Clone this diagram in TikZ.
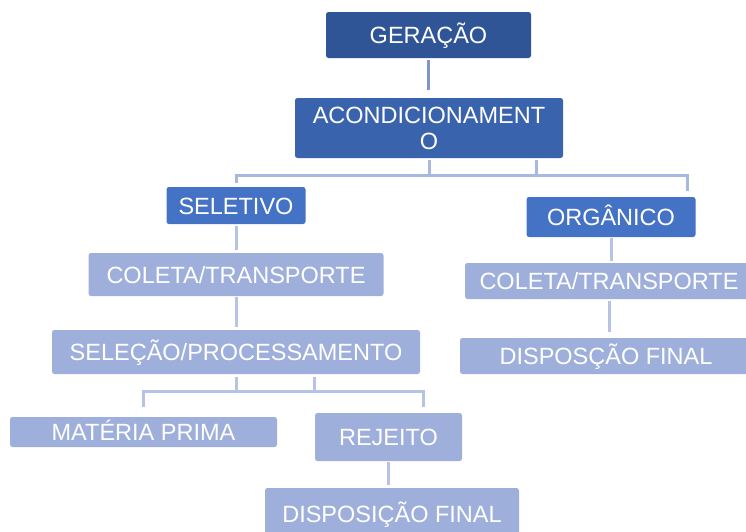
\documentclass[tikz,border=0pt]{standalone}
\usepackage{fontspec}
\setmainfont{Liberation Sans}
\usepackage{tikz}
\usetikzlibrary{calc}
\definecolor{gerblue}{HTML}{2F5597}
\definecolor{acondblue}{HTML}{3A63AE}
\definecolor{tipoblue}{HTML}{4472C4}
\definecolor{etapablue}{HTML}{9FAFDB}
\definecolor{topline}{HTML}{7F95CC}
\definecolor{midline}{HTML}{A9B8E0}
\definecolor{lowline}{HTML}{B6C3E4}
\tikzstyle{caixa}=[rounded corners=2.5pt, inner sep=0pt, text=white, font=\fontsize{23.5}{26}\selectfont]
\tikzstyle{linha}=[caixa, text height=17pt, text depth=0pt]
\tikzstyle{geracao}=[linha, fill=gerblue]
\tikzstyle{acond}=[caixa, fill=acondblue, align=center]
\tikzstyle{tipo}=[linha, fill=tipoblue]
\tikzstyle{etapa}=[linha, fill=etapablue]
\tikzstyle{ligtop}=[line width=3pt, topline]
\tikzstyle{ligmid}=[line width=3pt, midline]
\tikzstyle{liglow}=[line width=3pt, lowline]

\begin{document}
\begin{tikzpicture}[x=1pt,y=-1pt]
	\clip (0,0) rectangle (746,531);
	\node[geracao, minimum width=205pt, minimum height=46pt] (ger) at (428.5,35) {GERAÇÃO};
	\node[acond, minimum width=268pt, minimum height=60pt] (acd) at (429,128) {ACONDICIONAMENT\\O};
	\node[tipo, minimum width=139pt, minimum height=37pt] (sel) at (236,205.5) {SELETIVO};
	\node[tipo, minimum width=169pt, minimum height=40pt] (org) at (611,217) {ORGÂNICO};
	\node[etapa, minimum width=295pt, minimum height=43pt] (colsel) at (236,274.5) {COLETA/TRANSPORTE};
	\node[etapa, minimum width=368pt, minimum height=44pt] (proc) at (236,352) {SELEÇÃO/PROCESSAMENTO};
	\node[etapa, minimum width=267pt, minimum height=30pt] (mat) at (143.5,432) {MATÉRIA PRIMA};
	\node[etapa, minimum width=147pt, minimum height=48pt] (rej) at (388.5,437) {REJEITO};
	\node[etapa, minimum width=254pt, minimum height=52pt] (dispsel) at (392,514) {DISPOSIÇÃO FINAL};
	\node[etapa, minimum width=288pt, minimum height=36pt] (colorg) at (609,281) {COLETA/TRANSPORTE};
	\node[etapa, minimum width=292pt, minimum height=36pt] (disporg) at (606,356) {DISPOSÇÃO FINAL};
	\coordinate (orgin) at (687,197);
	\coordinate (rejin) at (423,413);
	\draw[ligtop, shorten <=2pt, shorten >=8pt] (ger.south) -- (ger.south |- acd.north);
	\draw[ligmid, shorten <=2pt, shorten >=4pt] (acd.south) -- ++(0,17) -| (sel.north);
	\draw[ligmid, shorten <=2pt, shorten >=6pt] (acd.south) -- ++(0,17) -| (orgin);
	\draw[ligmid, shorten <=2pt] ([xshift=107pt]acd.south) -- ++(0,17);
	\draw[liglow, shorten <=2pt, shorten >=3pt] (sel.south) -- (colsel.north);
	\draw[liglow, shorten <=1pt, shorten >=3pt] (colsel.south) -- (proc.north);
	\draw[liglow, shorten <=3pt, shorten >=10pt] (proc.south) -- ++(0,17) -| (mat.north);
	\draw[liglow, shorten <=3pt, shorten >=6pt] (proc.south) -- ++(0,17) -| (rejin);
	\draw[liglow, shorten <=3pt] ([xshift=78pt]proc.south) -- ++(0,17);
	\draw[liglow, shorten <=1pt, shorten >=3pt] (rej.south) -- (rej.south |- dispsel.north);
	\draw[liglow, shorten <=1pt, shorten >=2pt] (org.south) -- (org.south |- colorg.north);
	\draw[liglow, shorten <=2pt, shorten >=6pt] (colorg.south) -- (colorg.south |- disporg.north);
\end{tikzpicture}
\end{document}
